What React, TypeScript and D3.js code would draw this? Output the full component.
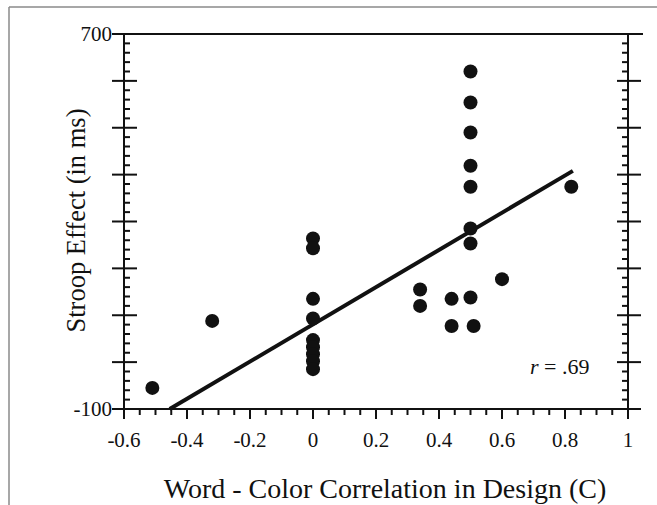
import React from 'react';
import * as d3 from 'd3';

// Design correlation C vs Stroop effect (ms)
const corrC = [
  -0.51, -0.32,
  0, 0, 0, 0, 0, 0, 0, 0, 0,
  0.34, 0.34, 0.44, 0.44,
  0.5, 0.51, 0.5, 0.5, 0.5, 0.5, 0.5, 0.5, 0.5,
  0.6, 0.82,
];
const stroopMs = [
  -55, 88,
  264, 243, 135, 93, 47, 32, 17, 2, -15,
  155, 120, 135, 77,
  138, 77, 285, 253, 374, 419, 490, 554, 620,
  177, 374,
];

// regression line end points
const fitX = [-0.455, 0.825];
const fitY = [-100, 408];

const xTicks = [-0.6, -0.4, -0.2, 0, 0.2, 0.4, 0.6, 0.8, 1];
const xTickLabels = ['-0.6', '-0.4', '-0.2', '0', '0.2', '0.4', '0.6', '0.8', '1'];
const yMajor = [-100, 0, 100, 200, 300, 400, 500, 600, 700];
const yLabelTicks = [700, -100];
const yLabelText = ['700', '-100'];

const serif = '"Liberation Serif", "DejaVu Serif", serif';
const ink = '#111';

export default function App() {
  const width = 657;
  const height = 505;
  const x = d3.scaleLinear().domain([-0.6, 1]).range([124, 628]);
  const y = d3.scaleLinear().domain([-100, 700]).range([409, 34]);
  const [x0, x1] = x.range();
  const [y0, y1] = y.range();

  const xMinor = d3.range(-0.6, 1.0001, 0.05).filter(v => !xTicks.some(t => Math.abs(t - v) < 1e-6));
  const yMinor = d3.range(-100, 700.001, 20).filter(v => v % 100 !== 0);

  const line = d3.line<number>().x(d => x(fitX[d])).y(d => y(fitY[d]));

  return (
    <svg width={width} height={height} style={{ position: 'absolute', left: 0, top: 0, background: '#fff' }}>
      {/* frame */}
      <line x1={9} y1={7} x2={width} y2={7} stroke="#8a8a8a" strokeWidth={1.5} />
      <line x1={9} y1={7} x2={9} y2={height} stroke="#8a8a8a" strokeWidth={1.5} />

      {/* axes box */}
      <g stroke={ink} strokeWidth={2} fill="none">
        <line x1={x0 - 12} y1={y1} x2={x1 + 15} y2={y1} />
        <line x1={x0 - 12} y1={y0} x2={x1 + 13} y2={y0} />
        <line x1={x0} y1={y1} x2={x0} y2={y0 + 10} />
        <line x1={x1} y1={y1} x2={x1} y2={y0 + 10} />

        {/* left / right majors cross the axis */}
        {yMajor.filter(v => v !== 700 && v !== -100).map(v => (
          <g key={'ym' + v}>
            <line x1={x0 - 12} y1={y(v)} x2={x0 + 13} y2={y(v)} />
            <line x1={x1 - 11} y1={y(v)} x2={x1 + 13} y2={y(v)} />
          </g>
        ))}
        {yMinor.map(v => (
          <g key={'yn' + v}>
            <line x1={x0} y1={y(v)} x2={x0 + 6} y2={y(v)} />
            <line x1={x1 - 6} y1={y(v)} x2={x1} y2={y(v)} />
          </g>
        ))}

        {/* bottom ticks hang down */}
        {xTicks.map(v => (
          <line key={'xm' + v} x1={x(v)} y1={y0} x2={x(v)} y2={y0 + 10} />
        ))}
        {xMinor.map(v => (
          <line key={'xn' + v} x1={x(v)} y1={y0} x2={x(v)} y2={y0 + 6} />
        ))}
      </g>

      {/* tick labels */}
      <g fontFamily={serif} fontSize={21} fill={ink}>
        {xTicks.map((v, i) => (
          <text key={'xl' + v} x={x(v)} y={y0 + 38} textAnchor="middle">{xTickLabels[i]}</text>
        ))}
        {yLabelTicks.map((v, i) => (
          <text key={'yl' + v} x={x0 - 12} y={y(v)} dy="0.35em" textAnchor="end">{yLabelText[i]}</text>
        ))}
      </g>

      {/* regression line */}
      <path d={line([0, 1]) || ''} stroke={ink} strokeWidth={4} fill="none" />

      {/* points */}
      <g fill={ink}>
        {corrC.map((c, i) => (
          <circle key={'p' + i} cx={x(c)} cy={y(stroopMs[i])} r={7} />
        ))}
      </g>

      <text x={530} y={374} fontFamily={serif} fontSize={22} fill={ink}>
        <tspan fontStyle="italic">r</tspan> = .69
      </text>

      {/* axis titles */}
      <text
        transform={`translate(85,${(y0 + y1) / 2 - 1}) rotate(-90)`}
        textAnchor="middle"
        fontFamily={serif}
        fontSize={26.5}
        fill={ink}
      >
        Stroop Effect (in ms)
      </text>
      <text x={385} y={498} textAnchor="middle" fontFamily={serif} fontSize={28} fill={ink}>
        Word - Color Correlation in Design (C)
      </text>
    </svg>
  );
}
